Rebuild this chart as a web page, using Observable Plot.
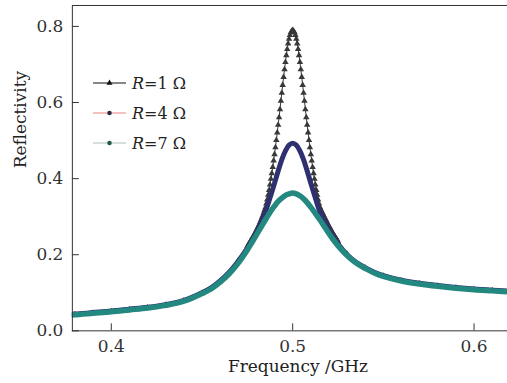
<!DOCTYPE html>
<html><head><meta charset="utf-8">
<script src="https://cdn.jsdelivr.net/npm/d3@7"></script>
<script src="https://cdn.jsdelivr.net/npm/@observablehq/plot@0.6"></script>
<style>
html,body{margin:0;padding:0;background:#fff;overflow:hidden;}
#wrap{position:relative;width:507px;height:383px;overflow:hidden;}
#legend{position:absolute;left:92px;top:68px;font-family:"DejaVu Serif";font-size:16px;color:#222;}
.row{display:flex;align-items:center;height:30px;}
.row svg{margin-right:5px;}
</style></head><body><div id="wrap"><div id="legend"></div></div>
<script>
// ---- data ----
const freq = [0.375,0.38,0.39,0.40,0.41,0.42,0.43,0.44,0.45,0.455,0.46,0.465,0.47,0.474,0.478,0.482,0.485,0.488,0.49,0.492,0.494,0.496,0.498,0.50,0.502,0.504,0.506,0.508,0.51,0.512,0.515,0.518,0.522,0.526,0.53,0.535,0.54,0.545,0.55,0.56,0.57,0.58,0.59,0.60,0.61,0.62,0.625];
const reflR7 = [0.041,0.042,0.046,0.050,0.055,0.060,0.067,0.078,0.098,0.110,0.128,0.150,0.178,0.205,0.236,0.268,0.292,0.315,0.328,0.340,0.349,0.356,0.360,0.362,0.360,0.355,0.347,0.337,0.325,0.312,0.292,0.270,0.242,0.218,0.198,0.178,0.164,0.152,0.143,0.131,0.123,0.117,0.112,0.108,0.105,0.102,0.101];
const reflR4 = [0.043,0.044,0.048,0.052,0.057,0.062,0.069,0.080,0.100,0.113,0.131,0.154,0.183,0.210,0.240,0.277,0.313,0.357,0.388,0.420,0.450,0.473,0.488,0.493,0.488,0.473,0.450,0.420,0.388,0.357,0.313,0.285,0.250,0.222,0.200,0.180,0.166,0.154,0.145,0.133,0.125,0.119,0.114,0.110,0.107,0.104,0.103];
const freqR1 = [0.375,0.38,0.39,0.40,0.41,0.42,0.43,0.44,0.45,0.46,0.47,
0.4750,0.4755,0.4760,0.4765,0.4770,0.4775,0.4780,0.4785,0.4790,0.4795,
0.4800,0.4805,0.4810,0.4815,0.4820,0.4825,0.4830,0.4835,0.4840,0.4845,
0.4850,0.4855,0.4860,0.4865,0.4870,0.4875,0.4880,0.4885,0.4890,0.4895,
0.4900,0.4905,0.4910,0.4915,0.4920,0.4925,0.4930,0.4935,0.4940,0.4945,
0.4950,0.4955,0.4960,0.4965,0.4970,0.4975,0.4980,0.4985,0.4990,0.4995,
0.5000,
0.5005,0.5010,0.5015,0.5020,0.5025,0.5030,0.5035,0.5040,0.5045,0.5050,
0.5055,0.5060,0.5065,0.5070,0.5075,0.5080,0.5085,0.5090,0.5095,0.5100,
0.5105,0.5110,0.5115,0.5120,0.5125,0.5130,0.5135,0.5140,0.5145,0.5150,
0.5155,0.5160,0.5165,0.5170,0.5175,0.5180,0.5185,0.5190,0.5195,0.5200,
0.5205,0.5210,0.5215,0.5220,0.5225,0.5230,0.5235,0.5240,0.5245,0.5250,
0.53,0.54,0.55,0.56,0.57,0.58,0.59,0.60,0.61,0.62,0.625];
const reflR1 = [0.042,0.043,0.047,0.051,0.056,0.061,0.068,0.079,0.099,0.130,0.185,
0.222,0.226,0.230,0.234,0.238,0.242,0.246,0.250,0.255,0.259,
0.264,0.269,0.274,0.279,0.285,0.291,0.297,0.303,0.310,0.317,
0.324,0.334,0.345,0.357,0.370,0.384,0.399,0.414,0.430,0.447,
0.464,0.482,0.501,0.521,0.541,0.561,0.582,0.604,0.625,0.646,
0.667,0.687,0.706,0.724,0.740,0.755,0.767,0.777,0.784,0.788,
0.790,
0.788,0.784,0.777,0.767,0.755,0.740,0.724,0.706,0.687,0.667,
0.646,0.625,0.604,0.582,0.561,0.541,0.521,0.501,0.482,0.464,
0.447,0.430,0.414,0.399,0.384,0.370,0.357,0.345,0.334,0.325,
0.319,0.314,0.309,0.304,0.299,0.294,0.290,0.285,0.280,0.275,
0.271,0.267,0.262,0.258,0.254,0.250,0.246,0.243,0.239,0.235,
0.202,0.165,0.144,0.132,0.124,0.118,0.113,0.109,0.106,0.103,0.102];
const xTicks = [0.4, 0.5, 0.6];
const yTicks = [0.0, 0.2, 0.4, 0.6, 0.8];
const legendValues = ["1", "4", "7"];
const xLabel = "Frequency /GHz";
const yLabel = "Reflectivity";

// ---- styles ----
const curveColor = {R1: "#383838", R4: "#2e3070", R7: "#23887f"};
const legendLine = ["#111111", "#e8867a", "#a9bfb3"];
const legendMarker = ["#111111", "#2a2a44", "#1f5a47"];

const t1 = freqR1.map((f, i) => ({f, v: reflR1[i]}));
const t4 = freq.map((f, i) => ({f, v: reflR4[i]}));
const t7 = freq.map((f, i) => ({f, v: reflR7[i]}));

const chart = Plot.plot({
  width: 508, height: 383,
  marginLeft: 72, marginRight: 0, marginTop: 5, marginBottom: 52,
  style: {fontFamily: "DejaVu Serif", fontSize: "17px", color: "#333", background: "#fff"},
  x: {domain: [0.37854, 0.61843]},
  y: {domain: [0, 0.855]},
  marks: [
    Plot.line(t1, {x: "f", y: "v", stroke: curveColor.R1, strokeWidth: 1, curve: "catmull-rom", clip: true}),
    Plot.dot(t1, {x: "f", y: "v", symbol: "triangle", r: 2.4, fill: curveColor.R1, stroke: "none", clip: true}),
    Plot.line(t4, {x: "f", y: "v", stroke: curveColor.R4, strokeWidth: 5, curve: "catmull-rom", clip: true}),
    Plot.line(t7, {x: "f", y: "v", stroke: curveColor.R7, strokeWidth: 5.5, curve: "catmull-rom", clip: true}),
    Plot.frame({stroke: "#333"}),
    Plot.axisX(xTicks, {tickSize: -7, tickFormat: ".1f", label: null, fontSize: 17}),
    Plot.axisY(yTicks, {tickSize: -7, tickFormat: ".1f", label: null, fontSize: 17}),
    Plot.text([xLabel], {text: d => d, frameAnchor: "bottom", dx: 8, dy: 41, fontSize: 17, fill: "#222"}),
    Plot.text([yLabel], {text: d => d, frameAnchor: "left", rotate: -90, dx: -52, fontSize: 17, fill: "#222"})
  ]
});
const wrap = document.getElementById("wrap");
wrap.insertBefore(chart, wrap.firstChild);

const legend = document.getElementById("legend");
const symbols = ["triangle", "circle", "circle"];
legendValues.forEach((val, i) => {
  const row = document.createElement("div");
  row.className = "row";
  const s = d3.create("svg").attr("width", 35).attr("height", 10);
  s.append("line").attr("x1", 1).attr("x2", 34).attr("y1", 5).attr("y2", 5)
    .attr("stroke", legendLine[i]).attr("stroke-width", 1.2);
  s.append("path").attr("transform", "translate(17.5,5)")
    .attr("d", d3.symbol(symbols[i] === "triangle" ? d3.symbolTriangle : d3.symbolCircle, 16)())
    .attr("fill", legendMarker[i]);
  row.appendChild(s.node());
  const txt = document.createElement("span");
  txt.innerHTML = `<i>R</i>=${val} Ω`;
  row.appendChild(txt);
  legend.appendChild(row);
});
</script></body></html>
